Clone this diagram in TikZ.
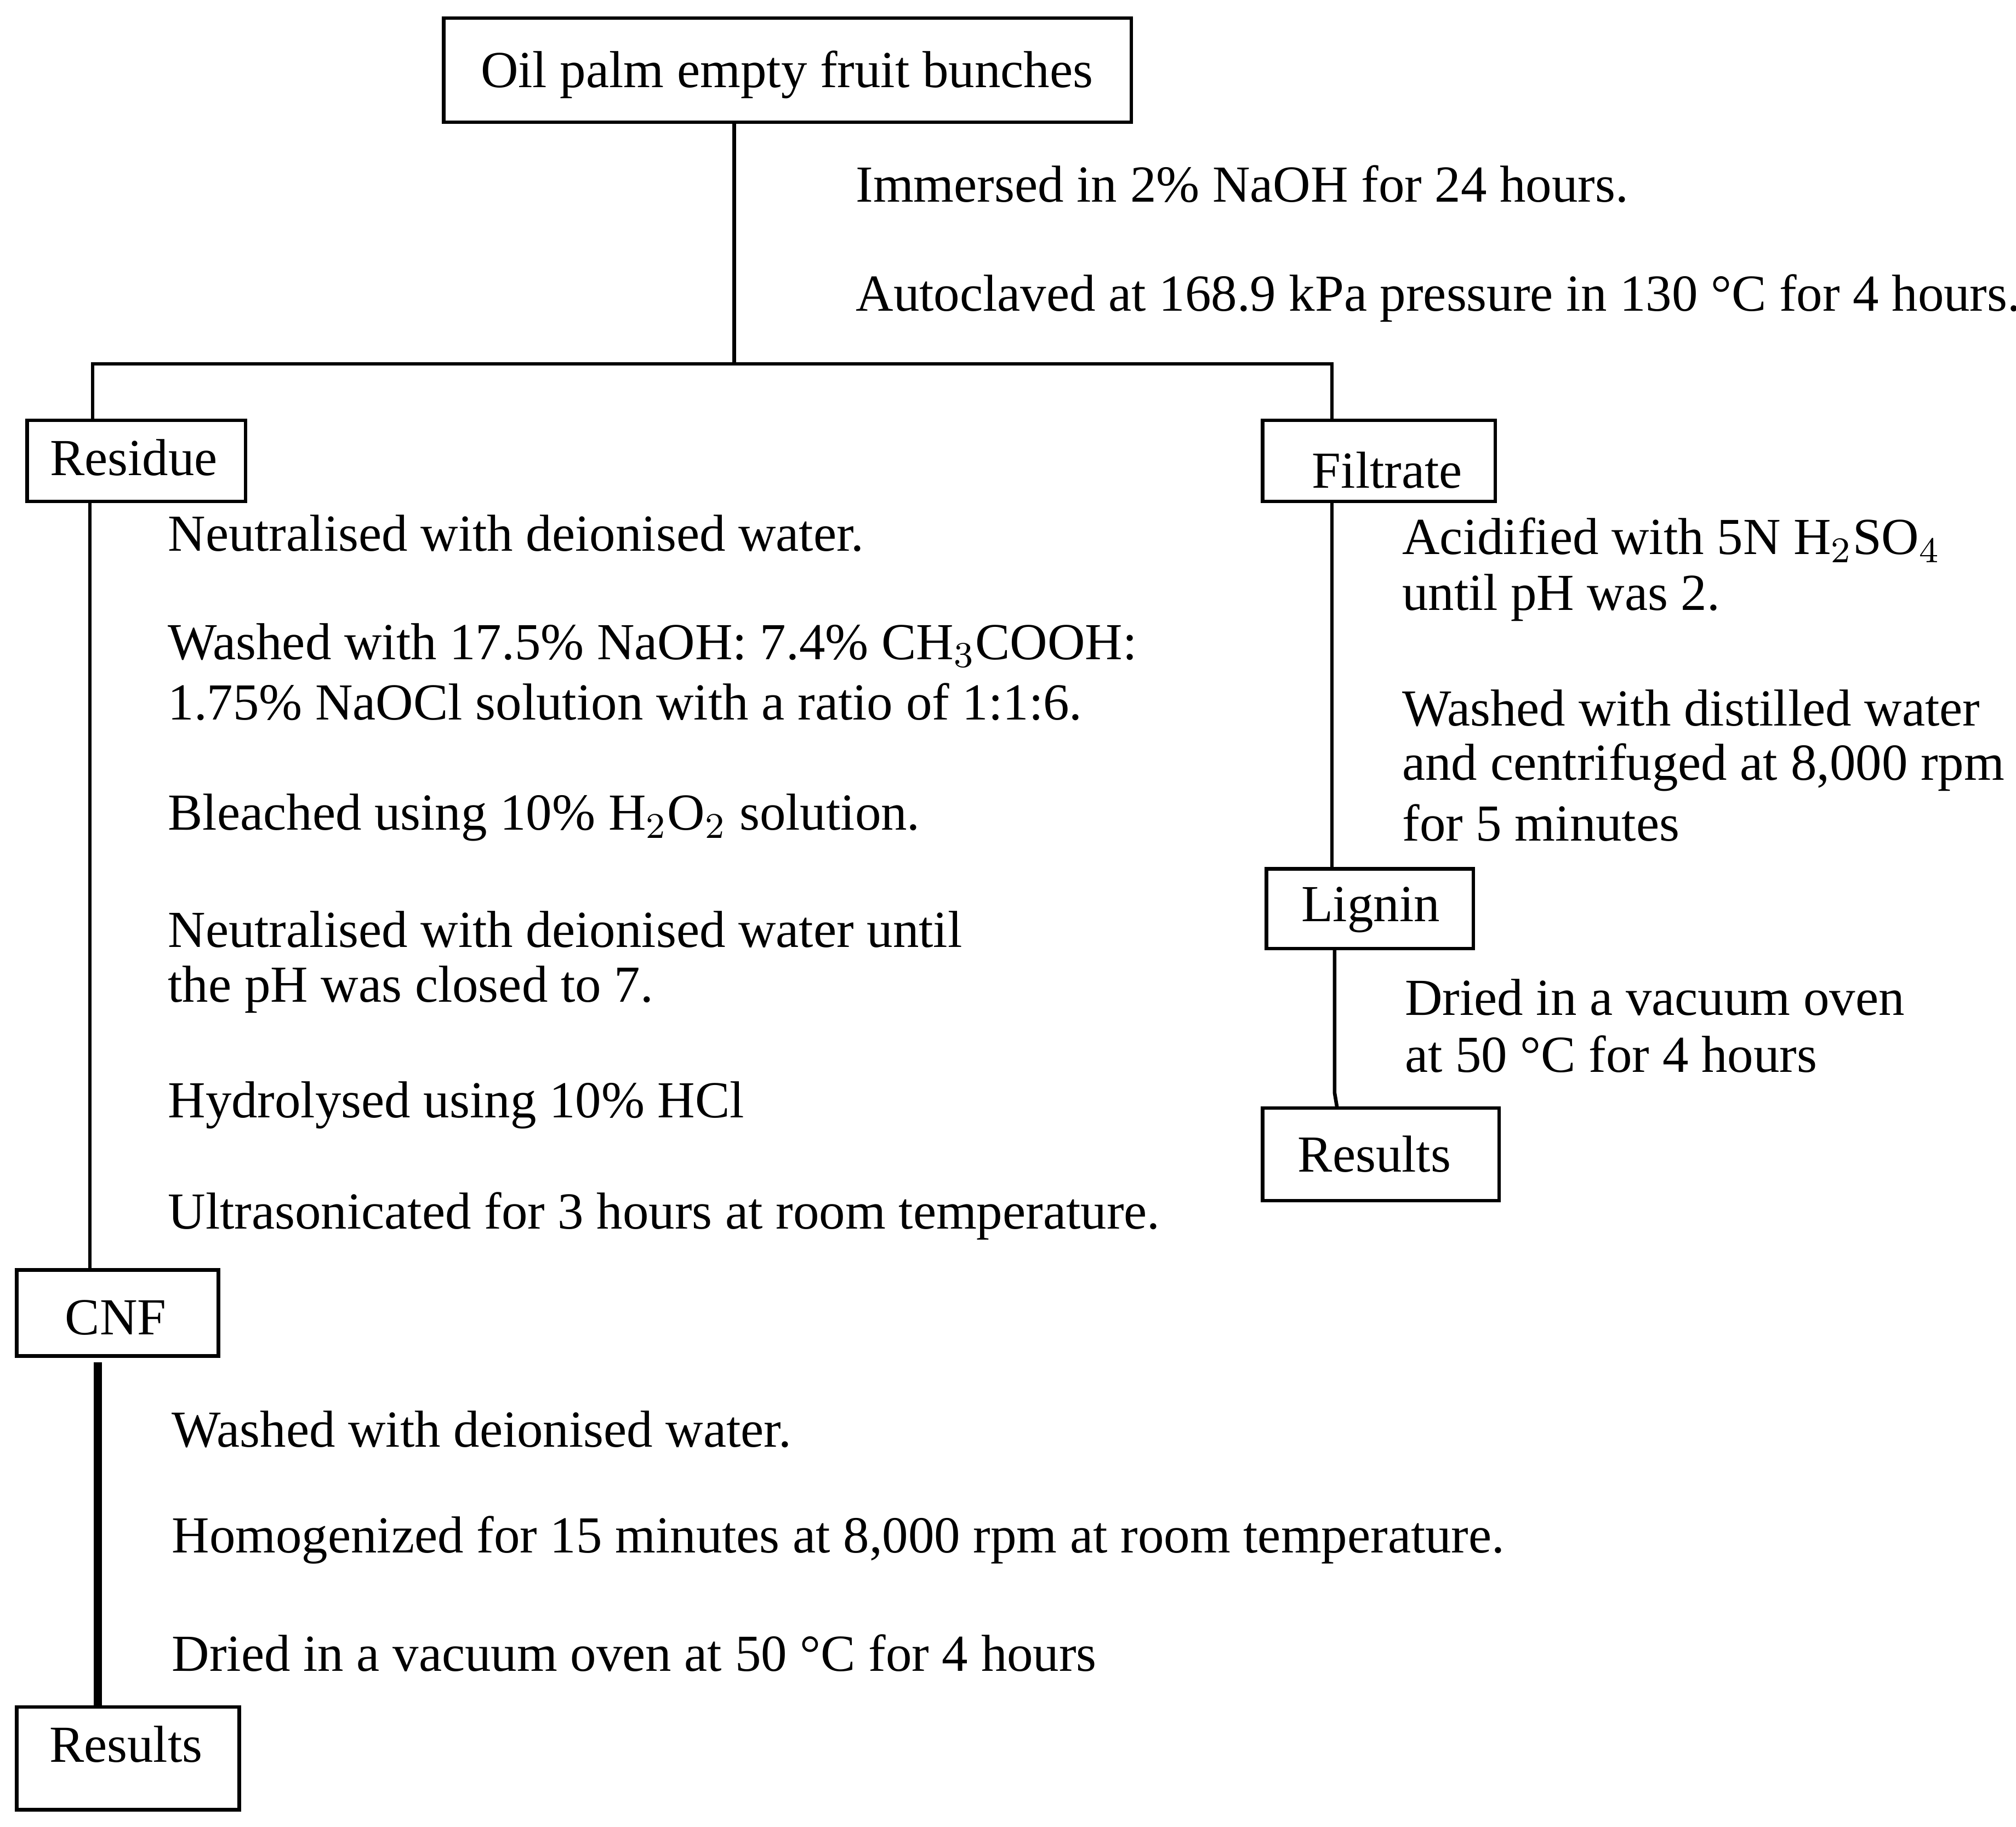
\documentclass[tikz,border=0pt]{standalone}
\usepackage{fontspec}
\setmainfont{Liberation Serif}
\begin{document}
\begin{tikzpicture}[x=0.01cm,y=-0.01cm,
  box/.style={draw,line width=0.8pt,inner sep=0pt},
  txt/.style={anchor=west,inner sep=0pt,font=\fontsize{11.5}{12}\selectfont},
  lbl/.style={inner sep=0pt,font=\fontsize{11.5}{12}\selectfont},
  ln/.style={line width=0.8pt}]
\useasboundingbox (0,0) rectangle (1568,1421);
% boxes
\draw[box] (345,14) rectangle (880,95); \node[lbl] (top) at (612,58) {Oil palm empty fruit bunches};
\draw[box] (21,327) rectangle (191,390); \node[lbl] (res) at (104,356) {Residue};
\draw[box] (982,327) rectangle (1163,390); \node[lbl] (fil) at (1079,366) {Filtrate};
\draw[box] (13,988) rectangle (170,1055); \node[lbl] (cnf) at (90,1025) {CNF};
\draw[box] (13,1328) rectangle (186,1408); \node[lbl] (r1) at (98,1357) {Results};
\draw[box] (985,676) rectangle (1146,738); \node[lbl] (lig) at (1066,708) {Lignin};
\draw[box] (982,862) rectangle (1166,934); \node[lbl] (r2) at (1069,898) {Results};
% connectors
\coordinate (s) at (571,283);
\draw[ln] (571,95) -- (s);
\draw[ln] (72,327) -- (72,283) -- (1036,283) -- (1036,327);
\draw[ln] (70,390) -- (70,988);
\draw[line width=1.8pt] (76,1060) -- (76,1328);
\draw[ln] (1036,390) -- (1036,676);
\draw[ln] (1038,738) -- (1038,850) -- (1040,862);
% texts
\node[txt] (t1) at (665,143) {Immersed in 2\% NaOH for 24 hours.};
\node[txt] (t2) at (665,232) {Autoclaved at 168.9 kPa pressure in 130 °C for 4 hours.};
\node[txt] (t3) at (130,415) {Neutralised with deionised water.};
\node[txt] (t4) at (130,502) {Washed with 17.5\% NaOH: 7.4\% CH$_3$COOH:};
\node[txt] (t5) at (130,546) {1.75\% NaOCl solution with a ratio of 1:1:6.};
\node[txt] (t6) at (130,636) {Bleached using 10\% H$_2$O$_2$ solution.};
\node[txt] (t7) at (130,723) {Neutralised with deionised water until};
\node[txt] (t8) at (130,770) {the pH was closed to 7.};
\node[txt] (t9) at (130,860) {Hydrolysed using 10\% HCl};
\node[txt] (t10) at (130,946) {Ultrasonicated for 3 hours at room temperature.};
\node[txt] (t11) at (133,1112) {Washed with deionised water.};
\node[txt] (t12) at (133,1198) {Homogenized for 15 minutes at 8,000 rpm at room temperature.};
\node[txt] (t13) at (133,1286) {Dried in a vacuum oven at 50 °C for 4 hours};
\node[txt] (t14) at (1090,420) {Acidified with 5N H$_2$SO$_4$};
\node[txt] (t15) at (1090,465) {until pH was 2.};
\node[txt] (t16) at (1090,551) {Washed with distilled water};
\node[txt] (t17) at (1090,597) {and centrifuged at 8,000 rpm};
\node[txt] (t18) at (1090,640) {for 5 minutes};
\node[txt] (t19) at (1092,776) {Dried in a vacuum oven};
\node[txt] (t20) at (1092,820) {at 50 °C for 4 hours};
\end{tikzpicture}
\end{document}
